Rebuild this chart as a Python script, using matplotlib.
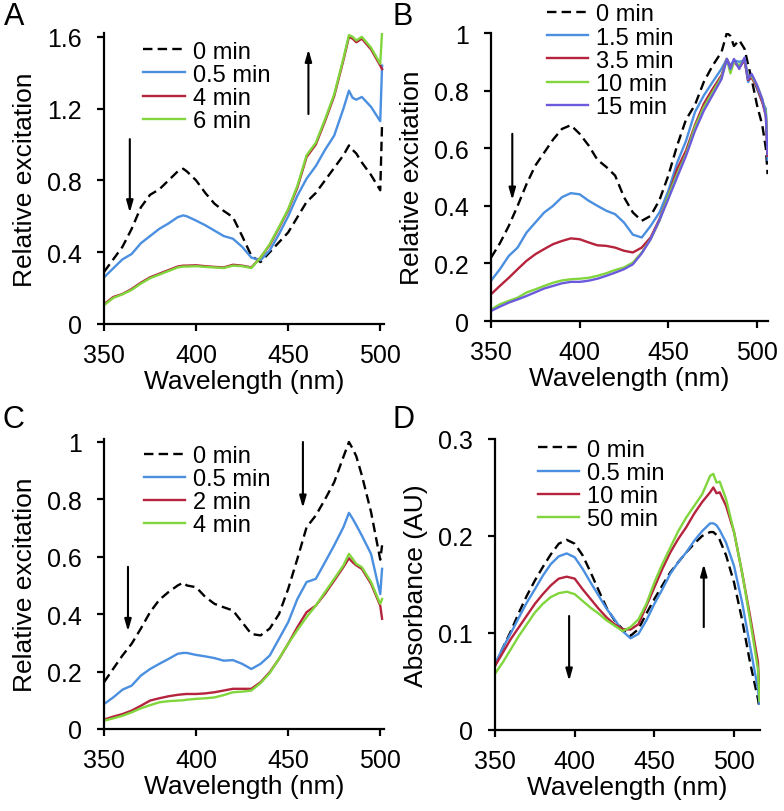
import numpy as np
import matplotlib
matplotlib.use("Agg")
import matplotlib.pyplot as plt

plt.rcParams['font.family'] = ['Liberation Sans', 'DejaVu Sans']

# ---- panel A ----
wl_a = [350, 355, 360, 365, 370, 375, 380, 385, 390, 393, 395, 400, 405, 410, 415, 420, 425, 430,
        435, 440, 445, 450, 455, 460, 465, 470, 475, 480, 483, 485, 487, 490, 495, 500, 501]
a_0min = [0.29, 0.36, 0.43, 0.53, 0.65, 0.72, 0.75, 0.80, 0.85, 0.865, 0.85, 0.80, 0.73, 0.67, 0.63,
          0.595, 0.49, 0.38, 0.345, 0.40, 0.455, 0.51, 0.595, 0.68, 0.73, 0.80, 0.87, 0.94, 0.995,
          0.97, 0.95, 0.90, 0.83, 0.745, 1.12]
a_05min = [0.26, 0.31, 0.36, 0.39, 0.45, 0.49, 0.53, 0.56, 0.595, 0.605, 0.60, 0.576, 0.55, 0.52, 0.49,
           0.475, 0.43, 0.37, 0.355, 0.41, 0.50, 0.60, 0.715, 0.81, 0.88, 0.97, 1.05, 1.20, 1.30,
           1.26, 1.25, 1.265, 1.21, 1.13, 1.44]
a_4min = [0.11, 0.15, 0.167, 0.195, 0.23, 0.26, 0.28, 0.30, 0.32, 0.325, 0.325, 0.327, 0.322, 0.318,
          0.315, 0.33, 0.325, 0.315, 0.37, 0.44, 0.535, 0.635, 0.76, 0.93, 1.00, 1.13, 1.27, 1.47,
          1.60, 1.59, 1.57, 1.59, 1.53, 1.44, 1.42]
a_6min = [0.105, 0.145, 0.165, 0.19, 0.225, 0.255, 0.275, 0.295, 0.315, 0.32, 0.32, 0.322, 0.318,
          0.315, 0.312, 0.325, 0.322, 0.312, 0.37, 0.445, 0.54, 0.64, 0.77, 0.94, 1.01, 1.14, 1.28,
          1.48, 1.61, 1.60, 1.58, 1.60, 1.54, 1.45, 1.63]

# ---- panel B ----
wl_b = [350, 355, 360, 365, 370, 375, 380, 385, 390, 395, 400, 405, 410, 415, 420, 425, 430, 435,
        440, 445, 450, 455, 460, 465, 470, 475, 480, 483, 485, 487, 490, 493, 495, 497, 500, 503,
        505, 506]
b_0min = [0.22, 0.27, 0.33, 0.40, 0.475, 0.54, 0.585, 0.63, 0.667, 0.68, 0.65, 0.61, 0.56, 0.535,
          0.505, 0.43, 0.377, 0.348, 0.365, 0.42, 0.505, 0.61, 0.70, 0.75, 0.83, 0.887, 0.934, 1.0,
          0.99, 0.955, 0.975, 0.945, 0.89, 0.84, 0.75, 0.68, 0.60, 0.51]
b_15min = [0.14, 0.18, 0.226, 0.255, 0.307, 0.342, 0.377, 0.40, 0.43, 0.444, 0.44, 0.418, 0.40,
           0.383, 0.371, 0.342, 0.30, 0.29, 0.33, 0.377, 0.452, 0.55, 0.626, 0.725, 0.783, 0.83,
           0.876, 0.91, 0.887, 0.905, 0.90, 0.905, 0.83, 0.853, 0.806, 0.76, 0.737, 0.56]
b_35min = [0.093, 0.122, 0.15, 0.18, 0.209, 0.232, 0.25, 0.267, 0.278, 0.287, 0.284, 0.273, 0.263,
           0.261, 0.255, 0.244, 0.238, 0.255, 0.29, 0.354, 0.435, 0.528, 0.592, 0.68, 0.754, 0.806,
           0.853, 0.91, 0.88, 0.90, 0.88, 0.905, 0.837, 0.845, 0.812, 0.76, 0.713, 0.574]
b_10min = [0.04, 0.058, 0.07, 0.081, 0.099, 0.11, 0.122, 0.133, 0.141, 0.145, 0.147, 0.15, 0.157,
           0.166, 0.177, 0.186, 0.203, 0.238, 0.284, 0.348, 0.435, 0.51, 0.58, 0.673, 0.742, 0.795,
           0.847, 0.91, 0.86, 0.90, 0.888, 0.91, 0.847, 0.85, 0.818, 0.77, 0.725, 0.60]
b_15min_p = [0.035, 0.05, 0.064, 0.075, 0.087, 0.10, 0.113, 0.122, 0.131, 0.136, 0.136, 0.14, 0.147,
             0.157, 0.168, 0.18, 0.197, 0.235, 0.284, 0.35, 0.424, 0.50, 0.574, 0.66, 0.73, 0.785,
             0.84, 0.91, 0.875, 0.91, 0.875, 0.915, 0.84, 0.858, 0.82, 0.77, 0.713, 0.58]

# ---- panel C ----
wl_c = wl_a
c_0min = [0.163, 0.21, 0.256, 0.297, 0.35, 0.407, 0.45, 0.477, 0.50, 0.51, 0.50, 0.494, 0.46, 0.436,
          0.424, 0.413, 0.372, 0.331, 0.326, 0.35, 0.40, 0.488, 0.593, 0.703, 0.744, 0.80, 0.86,
          0.948, 1.0, 0.977, 0.95, 0.884, 0.756, 0.59, 0.64]
c_05min = [0.087, 0.11, 0.137, 0.151, 0.186, 0.209, 0.227, 0.244, 0.262, 0.265, 0.265, 0.258, 0.253,
           0.247, 0.238, 0.24, 0.227, 0.209, 0.227, 0.256, 0.314, 0.372, 0.453, 0.512, 0.523, 0.581,
           0.64, 0.703, 0.753, 0.733, 0.71, 0.674, 0.61, 0.47, 0.558]
c_2min = [0.033, 0.043, 0.052, 0.064, 0.081, 0.099, 0.107, 0.114, 0.119, 0.121, 0.122, 0.122, 0.124,
          0.128, 0.134, 0.14, 0.14, 0.14, 0.163, 0.198, 0.244, 0.297, 0.355, 0.407, 0.43, 0.471,
          0.517, 0.564, 0.595, 0.581, 0.57, 0.558, 0.506, 0.43, 0.384]
c_4min = [0.029, 0.037, 0.046, 0.058, 0.072, 0.083, 0.093, 0.097, 0.099, 0.10, 0.102, 0.105, 0.107,
          0.11, 0.118, 0.128, 0.13, 0.134, 0.16, 0.195, 0.245, 0.297, 0.345, 0.39, 0.43, 0.477,
          0.523, 0.57, 0.61, 0.593, 0.575, 0.564, 0.512, 0.436, 0.453]

# ---- panel D ----
wl_d = [350, 355, 360, 365, 370, 375, 380, 385, 390, 395, 400, 405, 410, 415, 420, 425, 430, 435,
        440, 445, 450, 455, 460, 465, 470, 475, 480, 485, 487, 489, 491, 495, 500, 505, 510, 515, 516]
d_0min = [0.0663, 0.085, 0.102, 0.121, 0.1385, 0.154, 0.168, 0.181, 0.192, 0.196, 0.192, 0.18, 0.1625,
          0.144, 0.126, 0.113, 0.104, 0.097, 0.104, 0.12, 0.135, 0.149, 0.1625, 0.173, 0.183, 0.192,
          0.20, 0.204, 0.204, 0.201, 0.196, 0.18, 0.152, 0.114, 0.07, 0.032, 0.022]
d_05min = [0.068, 0.085, 0.10, 0.116, 0.1315, 0.145, 0.159, 0.171, 0.179, 0.182, 0.178, 0.166, 0.152,
           0.1385, 0.125, 0.114, 0.102, 0.0945, 0.099, 0.113, 0.13, 0.145, 0.161, 0.173, 0.183, 0.195,
           0.205, 0.213, 0.213, 0.211, 0.206, 0.193, 0.169, 0.132, 0.087, 0.042, 0.027]
d_10min = [0.066, 0.08, 0.094, 0.106, 0.118, 0.13, 0.14, 0.149, 0.156, 0.158, 0.156, 0.145, 0.135,
           0.125, 0.116, 0.109, 0.104, 0.1035, 0.109, 0.128, 0.147, 0.166, 0.183, 0.197, 0.209,
           0.223, 0.235, 0.245, 0.25, 0.244, 0.245, 0.231, 0.204, 0.1625, 0.118, 0.07, 0.037]
d_50min = [0.058, 0.07, 0.0835, 0.097, 0.109, 0.121, 0.13, 0.137, 0.141, 0.1425, 0.14, 0.133, 0.126,
           0.12, 0.113, 0.1075, 0.102, 0.106, 0.114, 0.13, 0.152, 0.171, 0.188, 0.205, 0.219, 0.231,
           0.243, 0.262, 0.264, 0.255, 0.256, 0.238, 0.204, 0.1625, 0.114, 0.063, 0.03]

xticks = [350, 400, 450, 500]
yticks_a = [0, 0.4, 0.8, 1.2, 1.6]
ylabels_a = ['0', '0.4', '0.8', '1.2', '1.6']
yticks_bc = [0, 0.2, 0.4, 0.6, 0.8, 1.0]
ylabels_bc = ['0', '0.2', '0.4', '0.6', '0.8', '1']
yticks_d = [0, 0.1, 0.2, 0.3]
ylabels_d = ['0', '0.1', '0.2', '0.3']

BLACK = 'black'
BLUE = '#4a8fe0'
RED = '#b5233d'
GREEN = '#80d63c'
PURPLE = '#6b5bdc'


def style_axes(ax, xlim, ylim, yticks, ylabels, ylabel):
    ax.set_xlim(*xlim)
    ax.set_ylim(*ylim)
    ax.spines['top'].set_visible(False)
    ax.spines['right'].set_visible(False)
    for s in ['left', 'bottom']:
        ax.spines[s].set_linewidth(1.6)
    ax.set_xticks(xticks)
    ax.set_xticklabels([str(t) for t in xticks])
    ax.set_yticks(yticks)
    ax.set_yticklabels(ylabels)
    ax.tick_params(direction='out', length=5, width=1.6, labelsize=18)
    ax.tick_params(axis='x', pad=8.5)
    ax.tick_params(axis='y', pad=11)
    ax.set_xlabel('Wavelength (nm)', fontsize=19, labelpad=1.5)
    ax.set_ylabel(ylabel, fontsize=19, labelpad=7)


def draw(ax, wl, series, legend_xy):
    for vals, color, label in series:
        if color == BLACK:
            ax.plot(wl, vals, color=color, lw=1.7, ls=(0, (4, 2.2)), label=label)
        else:
            ax.plot(wl, vals, color=color, lw=1.7, label=label)
    ax.legend(loc='upper left', bbox_to_anchor=legend_xy, frameon=False, fontsize=17,
              handlelength=1.75, handletextpad=0.34, labelspacing=0.05, borderpad=0,
              borderaxespad=0)


def arrow(ax, x, y0, y1):
    ax.annotate('', xy=(x, y1), xytext=(x, y0),
                arrowprops=dict(arrowstyle='-|>,head_length=0.7,head_width=0.2',
                                color='black', lw=1.5, shrinkA=0, shrinkB=0))


fig = plt.figure(figsize=(7.84, 8.12), dpi=100)

axA = fig.add_axes([0.1327, 0.5998, 0.357, 0.358])
draw(axA, wl_a, [(a_0min, BLACK, '0 min'), (a_05min, BLUE, '0.5 min'),
                 (a_4min, RED, '4 min'), (a_6min, GREEN, '6 min')], (0.14, 0.975))
style_axes(axA, (350, 502), (0, 1.62), yticks_a, ylabels_a, 'Relative excitation')
arrow(axA, 364, 1.03, 0.62)
arrow(axA, 461, 1.17, 1.53)

axB = fig.add_axes([0.6263, 0.6034, 0.3528, 0.3547])
draw(axB, wl_b, [(b_0min, BLACK, '0 min'), (b_15min, BLUE, '1.5 min'),
                 (b_35min, RED, '3.5 min'), (b_10min, GREEN, '10 min'),
                 (b_15min_p, PURPLE, '15 min')], (0.2025, 1.103))
style_axes(axB, (350, 506), (0, 1.0), yticks_bc, ylabels_bc, 'Relative excitation')
arrow(axB, 362, 0.65, 0.42)

axC = fig.add_axes([0.1327, 0.101, 0.357, 0.357])
draw(axC, wl_c, [(c_0min, BLACK, '0 min'), (c_05min, BLUE, '0.5 min'),
                 (c_2min, RED, '2 min'), (c_4min, GREEN, '4 min')], (0.143, 0.98))
style_axes(axC, (350, 502), (0, 1.01), yticks_bc, ylabels_bc, 'Relative excitation')
arrow(axC, 363, 0.565, 0.34)
arrow(axC, 458, 1.0, 0.77)

axD = fig.add_axes([0.6314, 0.0998, 0.3374, 0.3584])
draw(axD, wl_d, [(d_0min, BLACK, '0 min'), (d_05min, BLUE, '0.5 min'),
                 (d_10min, RED, '10 min'), (d_50min, GREEN, '50 min')], (0.163, 1.001))
style_axes(axD, (350, 516), (0, 0.3), yticks_d, ylabels_d, 'Absorbance (AU)')
arrow(axD, 396.5, 0.1175, 0.0505)
arrow(axD, 481, 0.106, 0.171)

for letter, x, y in [('A', 0.005, 0.969), ('B', 0.501, 0.969), ('C', 0.003, 0.473), ('D', 0.501, 0.473)]:
    fig.text(x, y, letter, fontsize=22, va='baseline', ha='left')

fig.savefig('out.png', dpi=100)
